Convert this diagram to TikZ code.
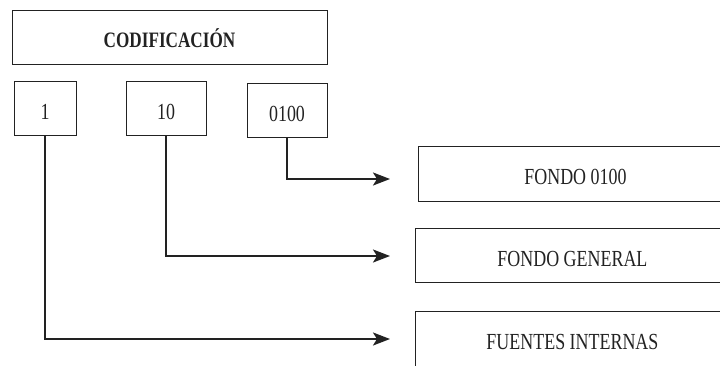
\documentclass[tikz,border=0pt]{standalone}
\usepackage{fontspec}
\setmainfont{Liberation Serif}[FakeStretch=0.78]
\usetikzlibrary{arrows.meta}
\definecolor{ink}{HTML}{222222}
\newcommand{\rtext}[1]{\makebox[314pt]{#1}\hspace*{60pt}}
\begin{document}
\begin{tikzpicture}[x=1pt,y=-1pt,
  box/.style={draw=ink,line width=0.9pt,minimum height=54pt,inner sep=0pt,
    font=\fontsize{23}{27}\selectfont,text height=22pt,text depth=0pt,text=ink},
  conn/.style={draw=ink,line width=2.2pt,-{Stealth[length=17pt,width=13pt,inset=4pt]}}]
\useasboundingbox (0,0) rectangle (720,365);
\clip (0,0) rectangle (720,365);
\node[box,minimum width=315pt,font=\fontsize{22}{26}\selectfont\bfseries,text height=21pt] (cod) at (169.5,37) {CODIFICACIÓN};
\node[box,minimum width=62pt] (b1) at (45,108) {1};
\node[box,minimum width=80pt] (b10) at (166,108) {10};
\node[box,minimum width=80pt] (b0100) at (287,110) {0100};
\node[box,minimum height=55pt,anchor=west] (f0100) at (418,173.5) {\rtext{FONDO 0100}};
\node[box,minimum height=54pt,anchor=west] (fgen) at (415,255) {\rtext{FONDO GENERAL}};
\node[box,minimum height=55pt,anchor=west] (fint) at (415,338.5) {\rtext{FUENTES INTERNAS}};
\coordinate (e3) at (390,179);
\coordinate (e2) at (390,256);
\coordinate (e1) at (390,339);
\draw[conn] (b0100.south) |- (e3);
\draw[conn] (b10.south) |- (e2);
\draw[conn] (b1.south) |- (e1);
\end{tikzpicture}
\end{document}
